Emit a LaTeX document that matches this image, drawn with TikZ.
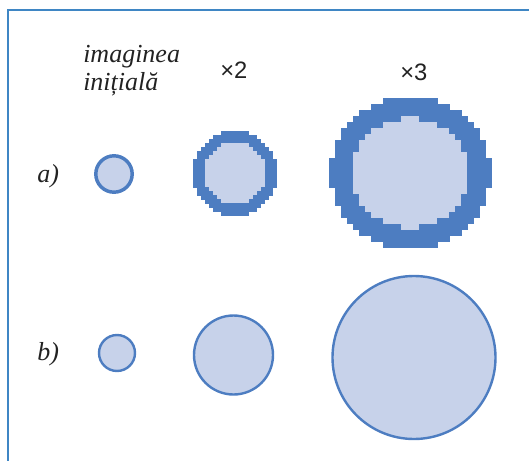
\documentclass[tikz,border=0pt]{standalone}
\usepackage{fontspec}
\setmainfont{Liberation Serif}
\newfontfamily\numfont{Liberation Sans}
\definecolor{ringblue}{HTML}{4D7DC1}
\definecolor{fillblue}{HTML}{C7D2EA}
\definecolor{frameblue}{HTML}{3F86C4}
\definecolor{txt}{HTML}{222222}
% pixelated ring: cx, cy, cell, Rx, Ry, thickness
\newcommand{\pixring}[6]{%
  \pgfmathsetmacro{\prNi}{int(ceil(#4/#3))}%
  \pgfmathsetmacro{\prNj}{int(ceil(#5/#3))}%
  \foreach \i in {-\prNi,...,\prNi}{%
    \foreach \j in {-\prNj,...,\prNj}{%
      \pgfmathsetmacro{\prdo}{(\i*#3/(#4-#3/3))^2+(\j*#3/(#5-#3/3))^2}%
      \pgfmathsetmacro{\prdi}{(\i*#3/(#4-#6-#3/3))^2+(\j*#3/(#5-#6-#3/3))^2}%
      \ifdim\prdo pt<1pt
        \ifdim\prdi pt<1pt \def\prcol{fillblue}\else\def\prcol{ringblue}\fi
        \fill[\prcol] (#1+\i*#3-#3/2-0.3, #2+\j*#3-#3/2-0.3) rectangle ++(#3+0.6,#3+0.6);
      \fi
    }%
  }%
}
\begin{document}
\begin{tikzpicture}[x=0.75pt,y=-0.75pt,
  lbl/.style={anchor=base west, inner sep=0pt, text=txt, font=\fontsize{19.5}{21}\selectfont\itshape},
  mul/.style={anchor=base west, inner sep=0pt, text=txt, font=\fontsize{17.8}{20}\selectfont\numfont},
  smooth/.style={draw=ringblue, fill=fillblue, line width=1.8pt}]
\useasboundingbox (0,0) rectangle (529,461);
% frame
\draw[frameblue, line width=1.5pt] (8,461) -- (8,10) -- (529,10);
% texts
\node[lbl] (t1) at (83,62) {imaginea};
\node[lbl] (t2) at (83,90) {inițială};
\node[mul] (m2) at (220,78) {×2};
\node[mul] (m3) at (400,80) {×3};
\node[lbl] (la) at (37,182) {a)};
\node[lbl] (lb) at (37,360) {b)};
% row a
\draw[draw=ringblue, fill=fillblue, line width=2.6pt] (114,174) circle (18.2);
\pixring{235}{173.5}{4}{43.5}{43.5}{11}
\pixring{410.5}{173}{6}{82}{77.5}{21}
% row b
\draw[smooth] (117,353) circle (18);
\draw[smooth] (233.5,355) circle (39.5);
\draw[smooth] (414,357.5) circle (81.5);
\end{tikzpicture}
\end{document}
